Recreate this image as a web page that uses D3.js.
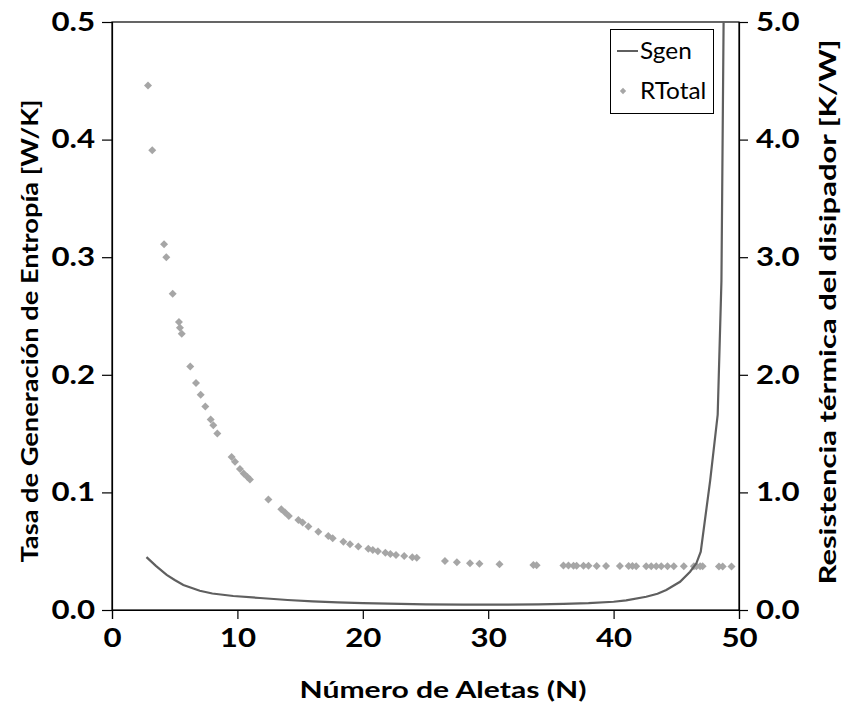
<!DOCTYPE html>
<html>
<head>
<meta charset="utf-8">
<script src="https://cdn.jsdelivr.net/npm/d3@7"></script>
<style>
  html, body { margin: 0; padding: 0; background: #fff; }
  svg { display: block; font-family: Lato, "Open Sans", sans-serif; }
</style>
</head>
<body>
<svg id="chart" width="841" height="704"></svg>
<script>
// Entropy generation rate (left axis) vs number of fins
const sgenFins = [2.75, 3.5, 4.36, 5, 5.69, 7, 8, 9.67, 11.8, 14, 16, 18, 20, 22, 25, 28, 31, 34, 36, 38, 40, 41, 42.6, 43.5, 44.2, 45.3, 46.1, 46.6, 46.95, 47.7, 48.3, 48.6, 48.85];
const sgenValues = [0.045, 0.0375, 0.0298, 0.0255, 0.0213, 0.0164, 0.014, 0.0119, 0.0102, 0.0085, 0.0073, 0.0065, 0.0058, 0.0054, 0.0048, 0.0045, 0.0045, 0.0048, 0.0052, 0.0058, 0.007, 0.0082, 0.0113, 0.0138, 0.017, 0.024, 0.0326, 0.0397, 0.0496, 0.11, 0.166, 0.28, 0.6];

// Total thermal resistance of the heat sink (right axis)
const rFins = [2.87, 3.21, 4.15, 4.33, 4.84, 5.34, 5.42, 5.56, 6.24, 6.70, 7.07, 7.44, 7.87, 8.08, 8.40, 9.54, 9.81, 10.2, 10.5, 10.8, 11.0, 12.47, 13.5, 13.8, 14.1, 14.86, 15.2, 15.66, 16.45, 17.25, 17.6, 18.45, 18.98, 19.64, 20.44, 20.8, 21.2, 21.8, 22.2, 22.65, 23.3, 23.95, 24.3, 26.55, 27.5, 28.55, 29.3, 30.9, 33.6, 33.86, 36.0, 36.4, 36.8, 37.05, 37.6, 38.0, 38.65, 39.4, 40.5, 41.2, 41.5, 41.8, 42.6, 43.0, 43.4, 43.8, 44.3, 44.8, 45.6, 46.4, 46.6, 46.9, 47.1, 48.4, 48.7, 49.4];
const rTotal = [4.46, 3.91, 3.11, 3.00, 2.69, 2.45, 2.40, 2.35, 2.07, 1.93, 1.83, 1.73, 1.62, 1.57, 1.50, 1.30, 1.26, 1.20, 1.16, 1.13, 1.11, 0.94, 0.856, 0.83, 0.80, 0.765, 0.745, 0.71, 0.666, 0.63, 0.61, 0.58, 0.56, 0.54, 0.52, 0.51, 0.50, 0.487, 0.476, 0.468, 0.46, 0.448, 0.445, 0.417, 0.405, 0.397, 0.394, 0.388, 0.382, 0.381, 0.378, 0.378, 0.377, 0.377, 0.376, 0.376, 0.375, 0.375, 0.374, 0.374, 0.374, 0.373, 0.373, 0.373, 0.373, 0.372, 0.372, 0.372, 0.372, 0.371, 0.371, 0.371, 0.371, 0.37, 0.37, 0.37];

const xTicks = [0, 10, 20, 30, 40, 50];
const leftTicks = [0, 0.1, 0.2, 0.3, 0.4, 0.5];
const rightTicks = [0, 1, 2, 3, 4, 5];

const xTitle = "Número de Aletas (N)";
const leftTitle = "Tasa de Generación de Entropía [W/K]";
const rightTitle = "Resistencia térmica del disipador [K/W]";
const legendNames = ["Sgen", "RTotal"];

const lineColor = "#5f5f5f";
const pointColor = "#a6a6a6";

const svg = d3.select("#chart");
const margin = { left: 112, right: 102, top: 22, bottom: 94 };
const W = 841, H = 704;
const pw = W - margin.left - margin.right;
const ph = H - margin.top - margin.bottom;

const x = d3.scaleLinear().domain([0, 50]).range([0, pw]);
const yL = d3.scaleLinear().domain([0, 0.5]).range([ph, 0]);
const yR = d3.scaleLinear().domain([0, 5]).range([ph, 0]);

// Widen a text element horizontally by a factor, keeping its anchor
function widen(sel, k) {
  sel.each(function () {
    const len = this.getComputedTextLength();
    d3.select(this).attr("textLength", len * k).attr("lengthAdjust", "spacingAndGlyphs");
  });
}

const g = svg.append("g").attr("transform", `translate(${margin.left},${margin.top})`);

g.append("defs").append("clipPath").attr("id", "plotClip")
  .append("rect").attr("x", 0).attr("y", 0).attr("width", pw).attr("height", ph);

// Plot frame
g.append("rect").attr("x", 0).attr("y", 0).attr("width", pw).attr("height", ph)
  .attr("fill", "none").attr("stroke", "#000").attr("stroke-width", 1.2);

const fmt = d3.format(".1f");

function styleAxis(sel) {
  sel.select(".domain").attr("stroke", "#000").attr("stroke-width", 1.2);
  sel.selectAll(".tick line").attr("stroke", "#000").attr("stroke-width", 1.2);
  sel.selectAll(".tick text")
    .attr("fill", "#000")
    .style("font-family", "Lato, sans-serif")
    .style("font-weight", "700")
    .style("font-size", "26px")
    .call(widen, 1.2);
}

g.append("g").attr("transform", `translate(0,${ph})`)
  .call(d3.axisBottom(x).tickValues(xTicks).tickSize(9).tickPadding(10).tickFormat(d3.format("d")))
  .call(styleAxis);

g.append("g")
  .call(d3.axisLeft(yL).tickValues(leftTicks).tickSize(10).tickPadding(7).tickFormat(fmt))
  .call(styleAxis);

g.append("g").attr("transform", `translate(${pw},0)`)
  .call(d3.axisRight(yR).tickValues(rightTicks).tickSize(9).tickPadding(8).tickFormat(fmt))
  .call(styleAxis);

// RTotal markers (diamonds)
const pts = rFins.map((n, i) => ({ n, r: rTotal[i] }));
g.append("g").attr("clip-path", "url(#plotClip)")
  .selectAll("path").data(pts).join("path")
  .attr("d", d3.symbol().type(d3.symbolSquare).size(32))
  .attr("transform", d => `translate(${x(d.n)},${yR(d.r)}) rotate(45)`)
  .attr("fill", pointColor);

// Sgen curve
const sg = sgenFins.map((n, i) => ({ n, s: sgenValues[i] }));
g.append("path").datum(sg)
  .attr("clip-path", "url(#plotClip)")
  .attr("fill", "none").attr("stroke", lineColor).attr("stroke-width", 2.2)
  .attr("d", d3.line().x(d => x(d.n)).y(d => yL(d.s)));

// Axis titles
const titleStyle = sel => sel.attr("text-anchor", "middle")
  .style("font-weight", "700").style("font-size", "22px");

svg.append("text")
  .attr("x", 443).attr("y", 698)
  .call(titleStyle)
  .text(xTitle)
  .attr("textLength", 287).attr("lengthAdjust", "spacingAndGlyphs");

svg.append("text")
  .attr("transform", `translate(38,331) rotate(-90)`)
  .call(titleStyle)
  .text(leftTitle)
  .attr("textLength", 463).attr("lengthAdjust", "spacingAndGlyphs");

svg.append("text")
  .attr("transform", `translate(836,312) rotate(-90)`)
  .call(titleStyle)
  .text(rightTitle)
  .attr("textLength", 545).attr("lengthAdjust", "spacingAndGlyphs");

// Legend
const lg = svg.append("g");
lg.append("rect").attr("x", 610.5).attr("y", 29.5).attr("width", 103).attr("height", 84)
  .attr("fill", "#fff").attr("stroke", "#000").attr("stroke-width", 1);
lg.append("line").attr("x1", 617).attr("x2", 638).attr("y1", 51).attr("y2", 51)
  .attr("stroke", lineColor).attr("stroke-width", 2);
lg.append("path")
  .attr("d", d3.symbol().type(d3.symbolSquare).size(20))
  .attr("transform", "translate(623,91) rotate(45)")
  .attr("fill", pointColor);
lg.selectAll("text.leg").data(legendNames).join("text")
  .attr("class", "leg")
  .attr("x", 640).attr("y", (d, i) => 51 + i * 40)
  .attr("dy", "0.35em")
  .style("font-size", "23px")
  .text(d => d)
  .call(widen, 1.06);
</script>
</body>
</html>
